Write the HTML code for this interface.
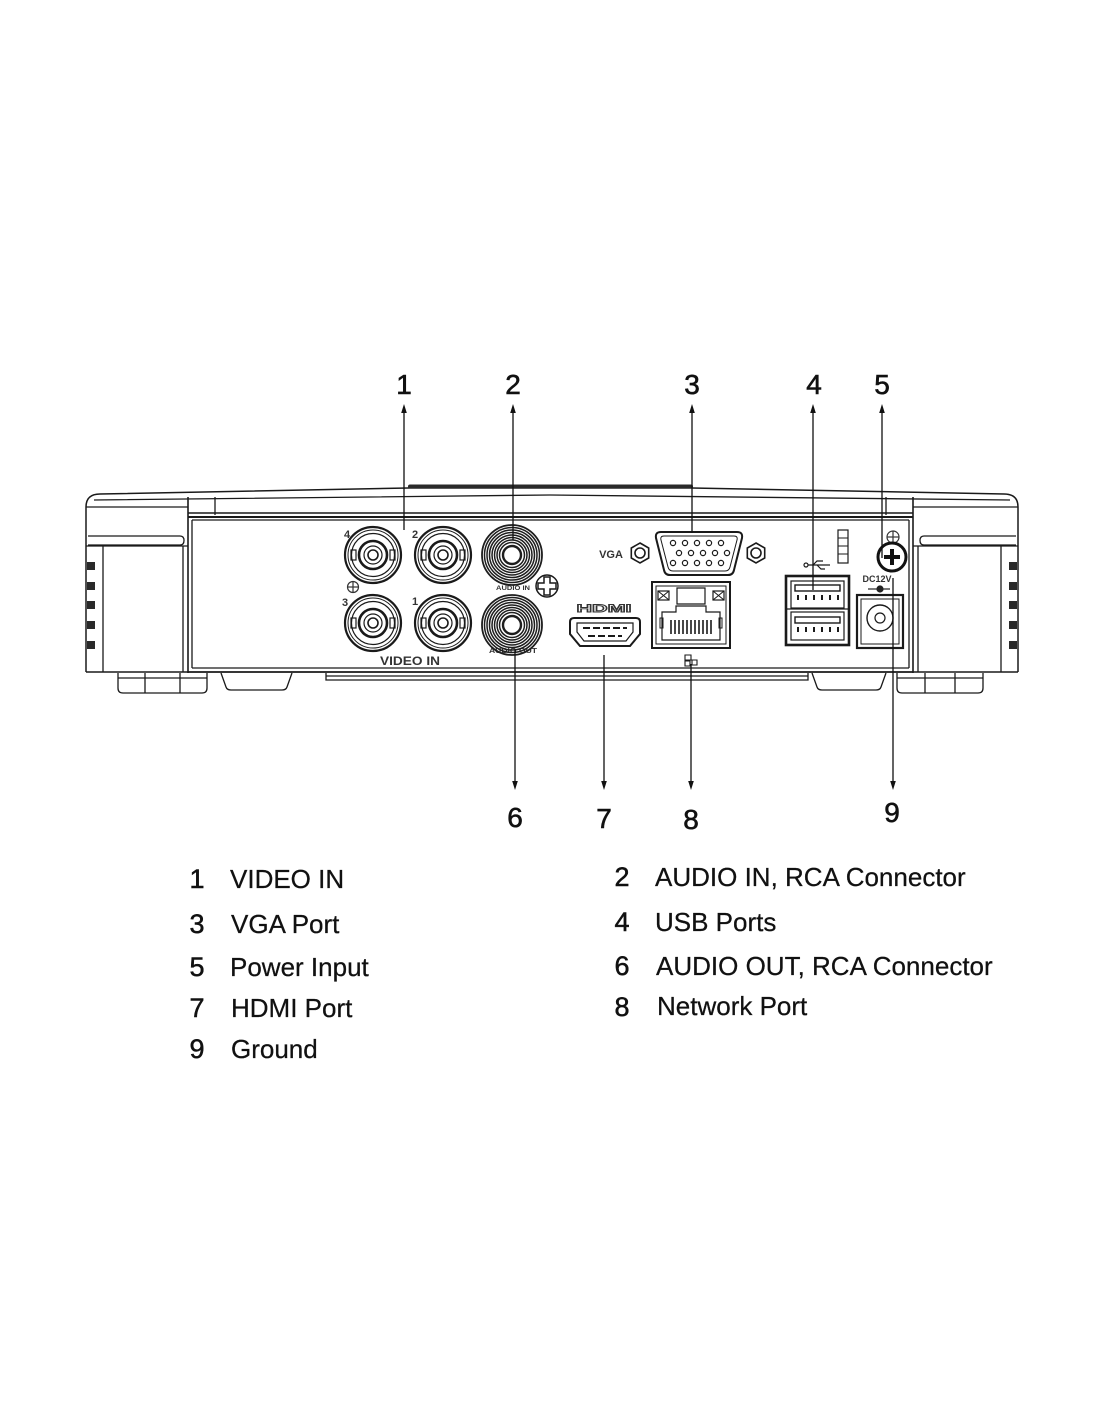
<!DOCTYPE html>
<html><head><meta charset="utf-8"><style>
html,body{margin:0;padding:0;background:#fff;}
svg{display:block;}
text{font-family:"Liberation Sans",Arial,sans-serif;}
</style></head><body>
<svg width="1100" height="1422" viewBox="0 0 1100 1422" xmlns="http://www.w3.org/2000/svg">
<defs>
<g id="bnc" fill="none" stroke="#1a1a1a">
  <circle r="28" stroke-width="2.2"/>
  <circle r="25" stroke-width="1"/>
  <circle r="21.5" stroke-width="1.2"/>
  <rect x="-22" y="-5" width="5" height="10" stroke-width="1.2"/>
  <rect x="17" y="-5" width="5" height="10" stroke-width="1.2"/>
  <circle r="14" stroke-width="2.6"/>
  <circle r="9" stroke-width="1.2"/>
  <circle r="5" stroke-width="1.6"/>
</g>
<g id="rca" fill="none" stroke="#1e1e1e">
  <circle r="30" stroke-width="1.8"/>
  <circle r="27.5" stroke-width="1.5"/>
  <circle r="25" stroke-width="1.5"/>
  <circle r="22.5" stroke-width="1.5"/>
  <circle r="20" stroke-width="1.5"/>
  <circle r="17.5" stroke-width="1.5"/>
  <circle r="15" stroke-width="1.5"/>
  <circle r="12.5" stroke-width="1.5"/>
  <circle r="9" fill="#fff" stroke-width="2.4"/>
</g>
<g id="hex" fill="none" stroke="#1a1a1a" stroke-width="1.6">
  <path d="M0 -10 L8.7 -5 L8.7 5 L0 10 L-8.7 5 L-8.7 -5 Z"/>
  <circle r="5" stroke-width="1.6"/>
</g>
</defs>

<!-- ===== DEVICE BODY ===== -->
<g fill="none" stroke="#1a1a1a" stroke-width="1.3">
  <path d="M86 672 L86 507 Q86 494 100 494 L408 488 L692 488 L1004 494 Q1018 494 1018 507 L1018 672" stroke-width="1.5"/>
  <path d="M94 500 Q300 497 550 495 Q800 497 1010 500"/>
  <path d="M86 507 L188 507"/>
  <path d="M913 507 L1018 507"/>
  <line x1="188" y1="497" x2="188" y2="673" stroke-width="1.6"/>
  <line x1="192" y1="520" x2="192" y2="668"/>
  <line x1="215" y1="497" x2="215" y2="515"/>
  <line x1="886" y1="497" x2="886" y2="515"/>
  <line x1="913" y1="497" x2="913" y2="673" stroke-width="1.6"/>
  <line x1="909" y1="520" x2="909" y2="668"/>
  <line x1="188" y1="513" x2="913" y2="513" stroke-width="1.6"/>
  <line x1="188" y1="517" x2="913" y2="517" stroke-width="2"/>
  <line x1="192" y1="520" x2="909" y2="520"/>
  <line x1="192" y1="668" x2="909" y2="668"/>
  <line x1="188" y1="672" x2="913" y2="672" stroke-width="1.8"/>
  <line x1="86" y1="672" x2="188" y2="672" stroke-width="1.5"/>
  <line x1="913" y1="672" x2="1018" y2="672" stroke-width="1.5"/>
  <path d="M88 536 L180 536 Q184 536 184 540.5 Q184 545 180 545 L88 545"/>
  <path d="M1016 536 L924 536 Q920 536 920 540.5 Q920 545 924 545 L1016 545"/>
  <line x1="86" y1="546" x2="188" y2="546"/>
  <line x1="913" y1="546" x2="1018" y2="546"/>
  <line x1="103" y1="546" x2="103" y2="672"/>
  <line x1="1001" y1="546" x2="1001" y2="672"/>
  <line x1="918" y1="546" x2="918" y2="672"/>
  <line x1="183" y1="546" x2="183" y2="672"/>
</g>
<rect x="408" y="484.5" width="285" height="4" rx="2" fill="#2a2a2a"/>
<g fill="#2a2a2a">
  <rect x="87" y="562" width="8" height="8"/><rect x="87" y="582" width="8" height="8"/>
  <rect x="87" y="601" width="8" height="8"/><rect x="87" y="621" width="8" height="8"/>
  <rect x="87" y="641" width="8" height="8"/>
  <rect x="1009" y="562" width="8" height="8"/><rect x="1009" y="582" width="8" height="8"/>
  <rect x="1009" y="601" width="8" height="8"/><rect x="1009" y="621" width="8" height="8"/>
  <rect x="1009" y="641" width="8" height="8"/>
</g>
<g fill="none" stroke="#1a1a1a" stroke-width="1.3">
  <path d="M118 673 L118 688 Q118 693 123 693 L202 693 Q207 693 207 688 L207 673"/>
  <line x1="145" y1="673" x2="145" y2="693"/><line x1="180" y1="673" x2="180" y2="693"/>
  <line x1="118" y1="678" x2="207" y2="678"/>
  <path d="M221 673 L226 687 Q227 690 231 690 L282 690 Q286 690 287 687 L292 673"/>
  <path d="M326 673 L326 680 L808 680 L808 673"/>
  <line x1="326" y1="676" x2="808" y2="676"/>
  <path d="M812 673 L817 687 Q818 690 822 690 L876 690 Q880 690 881 687 L886 673"/>
  <path d="M897 673 L897 688 Q897 693 902 693 L978 693 Q983 693 983 688 L983 673"/>
  <line x1="925" y1="673" x2="925" y2="693"/><line x1="955" y1="673" x2="955" y2="693"/>
  <line x1="897" y1="678" x2="983" y2="678"/>
</g>

<!-- ===== CONNECTORS ===== -->
<use href="#bnc" x="373" y="555"/>
<use href="#bnc" x="443" y="555"/>
<use href="#bnc" x="373" y="623"/>
<use href="#bnc" x="443" y="623"/>
<g font-weight="bold" font-size="11" fill="#333">
  <text x="347" y="538" text-anchor="middle">4</text>
  <text x="415" y="538" text-anchor="middle">2</text>
  <text x="345" y="606" text-anchor="middle">3</text>
  <text x="415" y="605" text-anchor="middle">1</text>
  <text x="410" y="665" text-anchor="middle" font-size="12" textLength="60" lengthAdjust="spacingAndGlyphs">VIDEO IN</text>
  <text x="611" y="558" text-anchor="middle" font-size="11">VGA</text>
  <text x="513" y="590" text-anchor="middle" font-size="6.5" textLength="34" lengthAdjust="spacingAndGlyphs">AUDIO IN</text>
  <text x="513" y="653" text-anchor="middle" font-size="7" textLength="48" lengthAdjust="spacingAndGlyphs">AUDIO OUT</text>
  <text x="877" y="582" text-anchor="middle" font-size="9">DC12V</text>
</g>
<g fill="none" stroke="#333" stroke-width="1.2">
  <circle cx="353" cy="587" r="5.5"/>
  <line x1="347.5" y1="587" x2="358.5" y2="587"/><line x1="353" y1="581.5" x2="353" y2="592.5"/>
  <circle cx="893" cy="537" r="6"/>
  <line x1="887" y1="537" x2="899" y2="537"/><line x1="893" y1="531" x2="893" y2="543"/>
</g>
<use href="#rca" x="512" y="555"/>
<use href="#rca" x="512" y="625"/>
<g fill="none" stroke="#1a1a1a" stroke-width="1.5">
  <circle cx="547" cy="586" r="11"/>
  <path d="M544 577 L550 577 L550 583 L556 583 L556 589 L550 589 L550 595 L544 595 L544 589 L538 589 L538 583 L544 583 Z" fill="#fff"/>
</g>
<use href="#hex" x="640" y="553"/>
<use href="#hex" x="756" y="553"/>
<g fill="none" stroke="#1a1a1a">
  <path d="M661 532 L737 532 Q743 532 742 538 L734 570 Q733 575 728 575 L670 575 Q665 575 664 570 L656 538 Q655 532 661 532 Z" stroke-width="2"/>
  <path d="M664 536 L734 536 Q738 536 737 540 L730 567 Q729 571 725 571 L673 571 Q669 571 668 567 L661 540 Q660 536 664 536 Z" stroke-width="1"/>
</g>
<g fill="none" stroke="#1a1a1a" stroke-width="1.2">
  <circle cx="673" cy="543" r="2.6"/><circle cx="685" cy="543" r="2.6"/><circle cx="697" cy="543" r="2.6"/><circle cx="709" cy="543" r="2.6"/><circle cx="721" cy="543" r="2.6"/>
  <circle cx="679" cy="553" r="2.6"/><circle cx="691" cy="553" r="2.6"/><circle cx="703" cy="553" r="2.6"/><circle cx="715" cy="553" r="2.6"/><circle cx="727" cy="553" r="2.6"/>
  <circle cx="673" cy="563" r="2.6"/><circle cx="685" cy="563" r="2.6"/><circle cx="697" cy="563" r="2.6"/><circle cx="709" cy="563" r="2.6"/><circle cx="721" cy="563" r="2.6"/>
</g>
<text x="604" y="612" text-anchor="middle" font-size="11" font-weight="bold" fill="#fff" stroke="#333" stroke-width="0.9" textLength="55" lengthAdjust="spacingAndGlyphs">HDMI</text>
<g fill="none" stroke="#1a1a1a">
  <path d="M574 618 L636 618 Q640 618 640 622 L640 634 L630 646 L580 646 L570 634 L570 622 Q570 618 574 618 Z" stroke-width="2"/>
  <path d="M577 623 L633 623 L633 632 L626 641 L584 641 L577 632 Z" stroke-width="1.2"/>
  <line x1="583" y1="628" x2="627" y2="628" stroke-width="2" stroke-dasharray="7 3"/>
  <line x1="588" y1="636" x2="622" y2="636" stroke-width="2" stroke-dasharray="7 3"/>
</g>
<g fill="none" stroke="#1a1a1a">
  <rect x="652" y="582" width="78" height="66" stroke-width="2"/>
  <rect x="656" y="586" width="70" height="58" stroke-width="1"/>
  <rect x="658" y="591" width="11" height="9" stroke-width="1.2"/>
  <path d="M658 591 L669 600 M669 591 L658 600" stroke-width="1"/>
  <rect x="713" y="591" width="11" height="9" stroke-width="1.2"/>
  <path d="M713 591 L724 600 M724 591 L713 600" stroke-width="1"/>
  <path d="M677 588 L705 588 L705 604 L677 604 Z" stroke-width="1.2"/>
  <path d="M662 612 L676 612 L676 606 L706 606 L706 612 L720 612 L720 640 L662 640 Z" stroke-width="1.2"/>
  <rect x="660" y="618" width="3" height="10" stroke-width="1"/>
  <rect x="719" y="618" width="3" height="10" stroke-width="1"/>
  <path d="M671 620 L671 634 M675 620 L675 634 M679 620 L679 634 M683 620 L683 634 M687 620 L687 634 M691 620 L691 634 M695 620 L695 634 M699 620 L699 634 M703 620 L703 634 M707 620 L707 634 M711 620 L711 634" stroke-width="1.6"/>
  <path d="M685 655 L691 655 L691 660 L685 660 Z M692 660 L697 660 L697 665 L692 665 Z M685 661 L690 661 L690 666 L685 666 Z" stroke-width="1.1"/>
</g>
<g fill="none" stroke="#1a1a1a">
  <rect x="786" y="576" width="63" height="69" stroke-width="2.6"/>
  <rect x="791" y="581" width="53" height="27" stroke-width="1.2"/>
  <rect x="795" y="585" width="45" height="6" stroke-width="1.4"/>
  <path d="M798 595 L798 600 M806 595 L806 600 M814 595 L814 600 M822 595 L822 600 M830 595 L830 600 M838 595 L838 600" stroke-width="2"/>
  <line x1="786" y1="609" x2="849" y2="609" stroke-width="1.2"/>
  <rect x="791" y="612" width="53" height="28" stroke-width="1.2"/>
  <rect x="795" y="617" width="45" height="6" stroke-width="1.4"/>
  <path d="M798 627 L798 632 M806 627 L806 632 M814 627 L814 632 M822 627 L822 632 M830 627 L830 632 M838 627 L838 632" stroke-width="2"/>
  <circle cx="806" cy="565" r="2" stroke-width="1.2"/>
  <path d="M808 565 L830 565 M813 565 L817 561 L823 561 M817 565 L821 569 L825 569" stroke-width="1.2"/>
  <rect x="838" y="530" width="10" height="33" stroke-width="1.2"/>
  <path d="M838 538 L848 538 M838 546 L848 546 M838 554 L848 554" stroke-width="1"/>
</g>
<circle cx="892" cy="557" r="14" fill="none" stroke="#111" stroke-width="3"/>
<rect x="884" y="555" width="16" height="4" fill="#111"/>
<rect x="890" y="549" width="4" height="16" fill="#111"/>
<g stroke="#222" fill="none" stroke-width="1.2">
  <line x1="868" y1="589" x2="877" y2="589"/>
  <circle cx="880" cy="589" r="3" fill="#222"/>
  <line x1="883" y1="589" x2="890" y2="589"/>
</g>
<g fill="none" stroke="#1a1a1a">
  <rect x="857" y="595" width="46" height="53" stroke-width="2.2"/>
  <rect x="861" y="599" width="38" height="45" stroke-width="1"/>
  <circle cx="880" cy="618" r="13" stroke-width="1.4"/>
  <circle cx="880" cy="618" r="5" stroke-width="1.2"/>
</g>

<!-- ===== CALLOUT ARROWS ===== -->
<g stroke="#111" stroke-width="1.3">
  <line x1="404" y1="410" x2="404" y2="530"/>
  <line x1="513" y1="410" x2="513" y2="540"/>
  <line x1="692" y1="410" x2="692" y2="533"/>
  <line x1="813" y1="410" x2="813" y2="590"/>
  <line x1="882" y1="410" x2="882" y2="558"/>
  <line x1="515" y1="650" x2="515" y2="784"/>
  <line x1="604" y1="655" x2="604" y2="784"/>
  <line x1="691" y1="664" x2="691" y2="784"/>
  <line x1="893" y1="578" x2="893" y2="784"/>
</g>
<g fill="#111">
  <path d="M404 404 L401.2 413 L406.8 413 Z"/>
  <path d="M513 404 L510.2 413 L515.8 413 Z"/>
  <path d="M692 404 L689.2 413 L694.8 413 Z"/>
  <path d="M813 404 L810.2 413 L815.8 413 Z"/>
  <path d="M882 404 L879.2 413 L884.8 413 Z"/>
  <path d="M515 790 L512.2 781 L517.8 781 Z"/>
  <path d="M604 790 L601.2 781 L606.8 781 Z"/>
  <path d="M691 790 L688.2 781 L693.8 781 Z"/>
  <path d="M893 790 L890.2 781 L895.8 781 Z"/>
</g>
<g font-size="28" fill="#111" stroke="#111" stroke-width="0.6" text-anchor="middle">
  <text x="404" y="394">1</text>
  <text x="513" y="394">2</text>
  <text x="692" y="394">3</text>
  <text x="814" y="394">4</text>
  <text x="882" y="394">5</text>
  <text x="515" y="827">6</text>
  <text x="604" y="828">7</text>
  <text x="691" y="829">8</text>
  <text x="892" y="822">9</text>
</g>

<!-- ===== LEGEND ===== -->
<g font-size="27" fill="#111" stroke="#111" stroke-width="0.5" text-anchor="middle">
  <text x="197" y="888">1</text>
  <text x="197" y="933">3</text>
  <text x="197" y="976">5</text>
  <text x="197" y="1017">7</text>
  <text x="197" y="1058">9</text>
  <text x="622" y="886">2</text>
  <text x="622" y="931">4</text>
  <text x="622" y="975">6</text>
  <text x="622" y="1016">8</text>
</g>
<g font-size="26" fill="#111" stroke="#111" stroke-width="0.25">
  <text x="230" y="888">VIDEO IN</text>
  <text x="231" y="933">VGA Port</text>
  <text x="230" y="976">Power Input</text>
  <text x="231" y="1017">HDMI Port</text>
  <text x="231" y="1058">Ground</text>
  <text x="655" y="886">AUDIO IN, RCA Connector</text>
  <text x="655" y="931">USB Ports</text>
  <text x="656" y="975">AUDIO OUT, RCA Connector</text>
  <text x="657" y="1015">Network Port</text>
</g>
</svg>
</body></html>
